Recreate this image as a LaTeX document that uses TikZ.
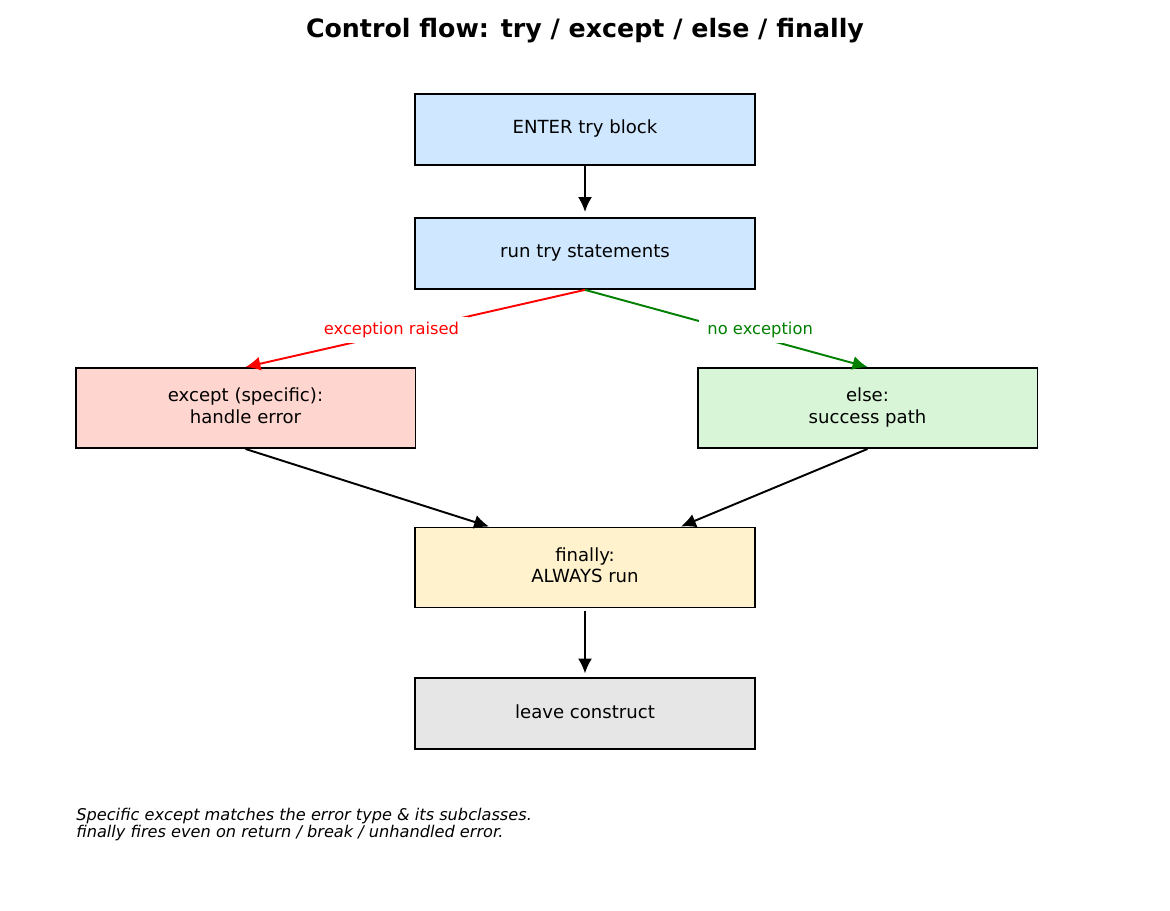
\documentclass[tikz,border=0pt]{standalone}
\usepackage{fontspec}
\setmainfont{DejaVu Sans}
\usetikzlibrary{arrows.meta}
\usetikzlibrary{positioning}
\definecolor{tryblue}{HTML}{CFE8FF}
\definecolor{exceptred}{HTML}{FFD6CF}
\definecolor{elsegreen}{HTML}{D8F5D8}
\definecolor{finallyyellow}{HTML}{FFF2CC}
\definecolor{leavegrey}{HTML}{E6E6E6}
\definecolor{okgreen}{HTML}{008000}
\tikzset{auto, >={Latex[length=8.5pt,width=8pt]}, font=\fontsize{10.3}{12}\selectfont}
\tikzstyle{block} = [draw, line width=1.1pt, rectangle, minimum width=6.8cm, minimum height=1.42cm, text centered, align=center, text depth=0.5ex]
\tikzstyle{tallblock} = [block, minimum height=1.6cm]
\tikzstyle{flow} = [->, line width=1.1pt]
\tikzstyle{edgelabel} = [auto=false, fill=white, inner xsep=5pt, inner ysep=3pt, font=\fontsize{9.3}{10}\selectfont]

\begin{document}
\begin{tikzpicture}[x=0.02cm, y=-0.02cm]
		\useasboundingbox (0,0) rectangle (1170,910);

		\node [font=\fontsize{14.4}{16}\selectfont\bfseries] at (585,31) (title) {Control flow: try / except / else / finally};

		\node [block, fill=tryblue] at (585,129.5) (enter) {ENTER try block};
		\node [block, fill=tryblue, below=1.02cm of enter] (run) {run try statements};

		\node [tallblock, fill=exceptred] at (245.5,408) (except) {except (specific):\\handle error};
		\node [tallblock, fill=elsegreen] at (867.5,408) (else) {else:\\success path};

		\node [tallblock, fill=finallyyellow] at (585,567.5) (finally) {finally:\\ALWAYS run};
		\node [block, fill=leavegrey, below=1.38cm of finally] (leave) {leave construct};

		\node [anchor=north west, inner sep=0pt, align=left, font=\fontsize{9.2}{9.4}\selectfont\itshape] at (76,808) (note) {Specific except matches the error type \& its subclasses.\\finally fires even on return / break / unhandled error.};

		\draw [flow, shorten >=0.1cm] (enter) -- (run);

		\draw [flow, red] (run.south) -- node [edgelabel, pos=0.57, yshift=0.08cm, text=red] {exception raised} (except.north);
		\draw [flow, okgreen] (run.south) -- node [edgelabel, pos=0.62, yshift=0.16cm, text=okgreen] {no exception} (else.north);

		\draw [flow] (except.south) -- ([xshift=1.5cm]finally.north west);
		\draw [flow] (else.south) -- ([xshift=-1.5cm]finally.north east);

		\draw [flow, shorten <=0.06cm, shorten >=0.08cm] (finally) -- (leave);

	\end{tikzpicture}
\end{document}
